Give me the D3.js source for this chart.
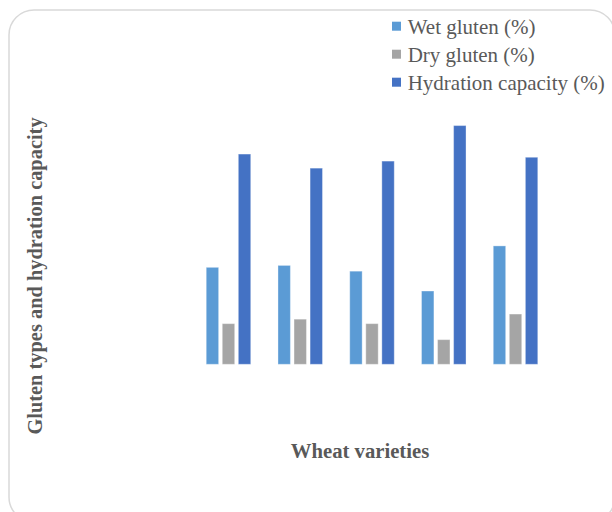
<!DOCTYPE html>
<html>
<head>
<meta charset="utf-8">
<script src="https://cdn.jsdelivr.net/npm/d3@7"></script>
<style>
  html, body { margin: 0; padding: 0; background: #ffffff; }
  svg { display: block; }
  text { fill: #595959; }
</style>
</head>
<body>
<svg id="chart" width="612" height="512"></svg>
<script>
// Wheat varieties (no category labels are printed on the axis)
const varieties = ["V1", "V2", "V3", "V4", "V5"];
const seriesNames = ["Wet gluten (%)", "Dry gluten (%)", "Hydration capacity (%)"];
const wetGluten = [30.3, 30.9, 29.1, 22.9, 37.0];
const dryGluten = [12.7, 14.1, 12.7, 7.7, 15.7];
const hydrationCapacity = [65.7, 61.3, 63.5, 74.6, 64.7];
const seriesColors = ["#5B9BD5", "#A5A5A5", "#4472C4"];

const serif = "'Liberation Serif', 'Times New Roman', Times, serif";

const seriesValues = [wetGluten, dryGluten, hydrationCapacity];
const rows = varieties.map((v, i) => ({
  variety: v,
  values: seriesNames.map((s, k) => ({ series: s, value: seriesValues[k][i], k }))
}));

const svg = d3.select("#chart");

// Rounded chart-area frame
svg.append("rect")
  .attr("x", 9).attr("y", 10)
  .attr("width", 606).attr("height", 512)
  .attr("rx", 25).attr("ry", 25)
  .attr("fill", "#ffffff")
  .attr("stroke", "#d9d9d9")
  .attr("stroke-width", 1.5);

// Scales
const x0 = d3.scaleBand()
  .domain(varieties)
  .range([204.4, 539.6])
  .paddingInner(0.329)
  .paddingOuter(0);

const x1 = d3.scaleBand()
  .domain(seriesNames)
  .range([0, x0.bandwidth()])
  .paddingInner(0.227)
  .paddingOuter(0.1135);

const y = d3.scaleLinear()
  .domain([0, 80])
  .range([364.3, 108.3]);

// Bars
const groups = svg.append("g")
  .selectAll("g")
  .data(rows)
  .join("g")
  .attr("transform", d => `translate(${x0(d.variety)},0)`);

groups.selectAll("rect")
  .data(d => d.values)
  .join("rect")
  .attr("x", d => x1(d.series))
  .attr("y", d => y(d.value))
  .attr("width", x1.bandwidth())
  .attr("height", d => y(0) - y(d.value))
  .attr("fill", d => seriesColors[d.k])
  .attr("stroke", "#ffffff")
  .attr("stroke-opacity", 0.35)
  .attr("stroke-width", 1);

// Axis titles
svg.append("text")
  .attr("x", 360).attr("y", 458)
  .attr("text-anchor", "middle")
  .attr("font-family", serif)
  .attr("font-size", 20.7)
  .attr("font-weight", "bold")
  .text("Wheat varieties");

svg.append("text")
  .attr("transform", "translate(42,276) rotate(-90)")
  .attr("text-anchor", "middle")
  .attr("font-family", serif)
  .attr("font-size", 20.4)
  .attr("font-weight", "bold")
  .text("Gluten types and hydration capacity");

// Legend
const legend = svg.append("g")
  .selectAll("g")
  .data(seriesNames)
  .join("g")
  .attr("transform", (d, i) => `translate(392,${21.7 + i * 28})`);

legend.append("rect")
  .attr("width", 9).attr("height", 9)
  .attr("fill", (d, i) => seriesColors[i]);

legend.append("text")
  .attr("x", 15.7)
  .attr("y", 12)
  .attr("font-family", serif)
  .attr("font-weight", "normal")
  .attr("font-size", 21)
  .text(d => d);
</script>
</body>
</html>
